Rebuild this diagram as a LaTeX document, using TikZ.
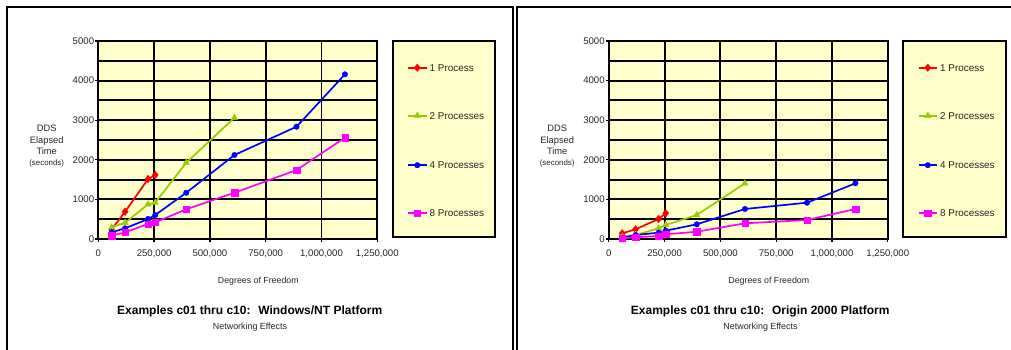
\documentclass[tikz,border=0pt]{standalone}
\usepackage{fontspec}
\setmainfont{Liberation Sans}
\usetikzlibrary{plotmarks}
\definecolor{plotbg}{RGB}{255,255,204}
\definecolor{sred}{RGB}{255,0,0}
\definecolor{sgreen}{RGB}{153,204,0}
\definecolor{sblue}{RGB}{0,0,255}
\definecolor{smag}{RGB}{255,0,255}
\tikzset{
  gridline/.style={line width=1.9pt},
  frameline/.style={line width=2.2pt},
  tickline/.style={line width=1.3pt},
  ticklab/.style={font=\fontsize{9.6}{11}\selectfont, inner sep=0pt, text=black!85},
  axtitle/.style={font=\fontsize{8.8}{10}\selectfont, inner sep=0pt, text=black!85},
  legtext/.style={font=\fontsize{9.9}{11}\selectfont, inner sep=0pt, anchor=west, text=black!85},
  charttitle/.style={font=\bfseries\fontsize{12}{14}\selectfont, inner sep=0pt},
  subtitle/.style={font=\fontsize{8.9}{10}\selectfont, inner sep=0pt, text=black!85},
  ser/.style={line width=1.7pt},
  mred/.style={mark=diamond*, mark size=3.8pt, mark options={solid, fill=sred, line width=0.3pt, xscale=1.1}},
  mgreen/.style={mark=triangle*, mark size=3.8pt, mark options={solid, fill=sgreen, line width=0.3pt}},
  mblue/.style={mark=*, mark size=2.8pt, mark options={solid, fill=sblue, line width=0.3pt}},
  mmag/.style={mark=square*, mark size=3.2pt, mark options={solid, fill=smag, line width=0.3pt}},
}
\newcommand\chartpanel[7]{%
\begin{scope}[xshift=#2pt]
  \begin{scope}[xshift=98.3pt, yshift=-239pt, x=0.2232pt, y=0.0396pt]
    \fill[plotbg] (0,0) rectangle (1250,5000);
    \foreach \v in {250,500,750,1000} \draw[gridline] (\v,0) -- (\v,5000);
    \foreach \h in {500,1000,...,4500} \draw[gridline] (0,\h) -- (1250,\h);
    \draw[gridline] (0,0) rectangle (1250,5000);
    \foreach \h in {0,1000,...,5000} {
      \draw[tickline] (0,\h) -- ++(-3pt,0pt);
      \node[ticklab, anchor=east] (#1-y\h) at ([xshift=-4pt]0,\h) {\h};
    }
    \foreach \v/\t in {0/0, 250/{250,000}, 500/{500,000}, 750/{750,000}, 1000/{1,000,000}, 1250/{1,250,000}} {
      \draw[tickline] (\v,0) -- ++(0pt,-3pt);
      \node[ticklab, anchor=base] (#1-x\v) at ([yshift=-17.7pt]\v,0) {\t};
    }
    \draw[ser, sred, mred] plot coordinates {#4};
    \draw[ser, sgreen, mgreen] plot coordinates {#5};
    \draw[ser, sblue, mblue] plot coordinates {#6};
    \draw[ser, smag, mmag] plot coordinates {#7};
  \end{scope}
  % axis titles
  \node[ticklab, align=center, font=\fontsize{9.3}{11.3}\selectfont] (#1-ytitle) at (46.7,146.3)
    {DDS\\Elapsed\\Time\\{\fontsize{7.9}{9}\selectfont(seconds)}};
  \node[axtitle] (#1-xtitle) at (258.3,281.7) {Degrees of Freedom};
  \node[charttitle] (#1-title) at (249.7,311) {#3};
  \node[subtitle] (#1-sub) at (250,327.3) {Networking Effects};
  % legend
  \filldraw[fill=plotbg, draw=black, frameline] (392.7,41) rectangle (495.3,236.7);
  \draw[ser, sred] (408,67.7) -- (426.7,67.7);
  \draw[sred, mred] plot coordinates {(417.3,67.7)};
  \node[legtext] (#1-l1) at (429.5,67.7) {1 Process};
  \draw[ser, sgreen] (408,115.7) -- (426.7,115.7);
  \draw[sgreen, mgreen] plot coordinates {(417.3,115.7)};
  \node[legtext] (#1-l2) at (429.5,115.7) {2 Processes};
  \draw[ser, sblue] (408,165.2) -- (426.7,165.2);
  \draw[sblue, mblue] plot coordinates {(417.3,165.2)};
  \node[legtext] (#1-l4) at (429.5,165.2) {4 Processes};
  \draw[ser, smag] (408,213.3) -- (426.7,213.3);
  \draw[smag, mmag] plot coordinates {(417.3,213.3)};
  \node[legtext] (#1-l8) at (429.5,213.3) {8 Processes};
\end{scope}}
\begin{document}
\begin{tikzpicture}[x=1pt, y=-1pt]
  \useasboundingbox (0,0) rectangle (1011,350);
  \fill[white] (0,0) rectangle (1011,350);
  % panel frames
  \draw[frameline] (6.7,350) -- (6.7,7) -- (513,7) -- (513,350);
  \draw[frameline] (517,350) -- (517,7) -- (1011,7);
  \chartpanel{L}{0}{Examples c01 thru c10:~ Windows/NT Platform}
    {(60,245) (120,689) (223,1515) (255,1616)}
    {(60,295) (120,411) (223,876) (255,917) (394,1927) (610,3063)}
    {(60,169) (120,270) (223,505) (255,606) (394,1169) (610,2121) (888,2836) (1105,4159)}
    {(60,84) (120,169) (223,379) (255,421) (394,750) (610,1169) (888,1742) (1105,2558)}
  \chartpanel{R}{510.5}{Examples c01 thru c10:~ Origin 2000 Platform}
    {(60,144) (120,245) (223,505) (255,649)}
    {(60,58) (120,101) (223,270) (255,354) (394,606) (610,1407)}
    {(60,33) (120,101) (223,160) (255,210) (394,371) (610,758) (888,917) (1105,1407)}
    {(60,17) (120,43) (223,76) (255,119) (394,184) (610,396) (888,480) (1105,758)}
\end{tikzpicture}
\end{document}
